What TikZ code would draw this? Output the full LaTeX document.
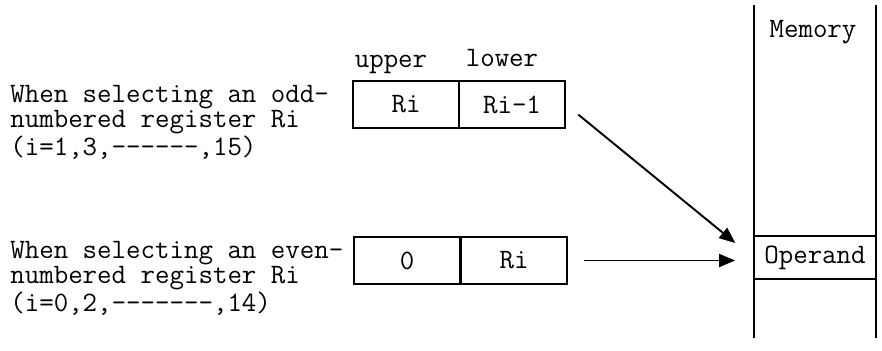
\documentclass[tikz,border=0pt]{standalone}
\usepackage{tikz}
\usetikzlibrary{arrows}

\begin{document}
\begin{tikzpicture}[>=triangle 45,x=0.02cm,y=-0.02cm,
		txt/.style={font=\fontsize{16}{13}\selectfont\ttfamily,inner sep=0pt},
		cell/.style={txt,draw=black,line width=1.1pt,rectangle,minimum width=2.12cm,minimum height=0.94cm}]
				\useasboundingbox (0,0) rectangle (882,351);

				% left hand texts
				\node[txt,anchor=west,align=left] (odd) at (10, 122) {When selecting an odd-\\numbered register Ri\\(i=1,3,-{}-{}-{}-{}-{}-,15)};
				\node[txt,anchor=west,align=left] (even) at (10, 278) {When selecting an even-\\numbered register Ri\\(i=0,2,-{}-{}-{}-{}-{}-{}-,14)};

				% register pairs
				\node[cell] (up1) at (406, 104.5) {Ri};
				\node[cell] (lo1) at (512, 104.5) {Ri-1};
				\node[cell] (up2) at (407, 260.5) {0};
				\node[cell] (lo2) at (514, 260.5) {Ri};

				\draw (391, 68) node[txt,anchor=base] {upper};
				\draw (502, 67) node[txt,anchor=base] {lower};

				% memory
				\draw[line width=1.1pt] (754, 5) -- (754, 338);
				\draw[line width=1.1pt] (876, 5) -- (876, 338);
				\node[txt] (mem) at (813, 32) {Memory};
				\node[cell,minimum width=2.44cm,minimum height=0.86cm] (opnd) at (815, 257.5) {Operand};

				\draw[->,line width=1.1pt,shorten <=0.32cm,shorten >=0.46cm] (lo1.east) -- (opnd.west);
				\draw[->,line width=1.1pt,shorten <=0.32cm,shorten >=0.36cm] (lo2.east) -- (lo2.east -| opnd.west);
			\end{tikzpicture}
\end{document}
